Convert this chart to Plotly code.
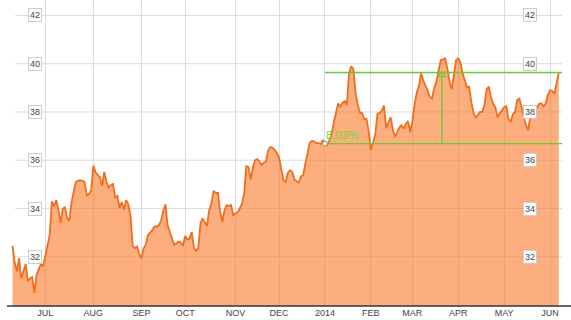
import plotly.graph_objects as go

# Daily closing prices (trading days), mid-June 2013 to early June 2014
pre_jul = [32.45, 31.75, 31.4, 31.95, 31.1, 31.4, 31.7, 31.0, 31.1, 31.15, 30.5, 31.25, 31.45, 31.7, 31.6]
jul = [32.0, 32.4, 32.9, 34.3, 34.1, 34.35, 33.95, 33.4, 34.0, 34.05, 33.6, 33.5, 34.25, 34.7, 35.1, 35.15,
       35.17, 35.15, 35.1, 34.55, 34.6, 34.75]
aug = [35.78, 35.5, 35.4, 35.29, 34.94, 35.52, 35.1, 34.87, 34.97, 35.01, 34.45, 34.52, 34.03, 34.27, 33.96,
       34.35, 34.17, 33.68, 32.45, 32.35, 32.42, 32.11]
sep = [31.93, 32.35, 32.5, 32.9, 33.0, 33.1, 33.26, 33.25, 33.3, 33.5, 33.9, 34.17, 33.3, 33.0, 32.7, 32.49,
       32.55, 32.63, 32.6, 32.45]
oct_ = [32.86, 32.72, 32.75, 33.03, 32.4, 32.25, 32.35, 33.38, 33.59, 33.45, 33.27, 33.93, 34.2, 34.73, 34.65,
        34.65, 33.9, 33.45, 33.93, 34.14, 34.10, 34.14, 33.72]
nov = [33.79, 33.84, 34.0, 34.2, 34.6, 35.75, 35.72, 35.2, 35.7, 36.0, 36.05, 35.95, 35.8, 35.9, 35.95, 36.41,
       36.55, 36.52, 36.42, 36.3]
dec = [36.1, 35.6, 35.17, 35.1, 35.48, 35.59, 35.52, 35.2, 35.14, 35.07, 35.33, 35.38, 35.85, 36.3, 36.72,
       36.8, 36.78, 36.7, 36.72, 36.66, 36.84]
jan = [36.69, 36.62, 36.8, 37.1, 37.55, 37.9, 38.35, 38.22, 38.38, 38.45, 38.3, 39.6, 39.89, 39.79, 38.8,
       38.3, 37.98, 37.95, 37.7, 37.72, 37.2]
feb = [36.42, 36.8, 37.05, 37.92, 37.96, 38.05, 38.26, 37.33, 37.58, 37.78, 37.3, 36.97, 37.15, 37.35, 37.45,
       37.3, 37.5, 37.62, 37.17]
mar = [37.6, 38.3, 38.8, 39.1, 39.6, 39.3, 39.1, 38.9, 38.62, 38.56, 39.0, 39.25, 39.72, 40.15, 40.18, 40.22,
       39.82, 39.25, 38.95, 39.6, 40.15]
apr = [40.23, 40.05, 39.6, 39.32, 39.02, 39.05, 38.4, 37.98, 37.75, 37.88, 38.0, 38.0, 38.3, 38.95, 39.05,
       38.6, 38.33, 38.19, 37.78, 37.95, 38.08]
may = [38.2, 38.24, 37.7, 37.6, 37.9, 38.0, 38.5, 38.55, 38.1, 37.8, 37.44, 37.25, 37.85, 37.8, 38.04, 38.18,
       38.33, 38.36, 38.24, 38.35, 38.7]
jun = [38.9, 38.88, 38.75, 39.2, 39.635]

prices = pre_jul + jul + aug + sep + oct_ + nov + dec + jan + feb + mar + apr + may + jun
days = list(range(len(prices)))

# Month-start positions (trading-day index) and labels
month_ticks = [15, 37, 59, 79, 102, 122, 143, 164, 183, 204, 225, 246]
month_labels = ["JUL", "AUG", "SEP", "OCT", "NOV", "DEC", "2014", "FEB", "MAR", "APR", "MAY", "JUN"]

y_ticks = [32, 34, 36, 38, 40, 42]

# Measurement tool: from start of 2014 to last close
meas_start = 143
meas_end = len(prices) - 1

W, H = 571, 320
line_c = "#f06e1e"
fill_c = "rgba(250,120,40,0.6)"
green = "#66cc33"

fig = go.Figure()
fig.add_trace(go.Scatter(
    x=days, y=prices, mode="lines",
    line=dict(color=line_c, width=1.8),
    fill="tozeroy", fillcolor=fill_c, hoverinfo="skip", showlegend=False))

p0 = prices[meas_start]
p1 = prices[meas_end]
mid = (meas_start + meas_end) / 2
x_end = meas_end + 1.5
pct = (p1 / p0 - 1) * 100

# measurement lines
fig.add_trace(go.Scatter(x=[meas_start, x_end], y=[p1, p1], mode="lines",
                         line=dict(color=green, width=1.3), showlegend=False, hoverinfo="skip"))
fig.add_trace(go.Scatter(x=[meas_start, x_end], y=[p0, p0], mode="lines",
                         line=dict(color=green, width=1.3), showlegend=False, hoverinfo="skip"))
fig.add_trace(go.Scatter(x=[mid, mid], y=[p0, p1], mode="lines",
                         line=dict(color=green, width=1.3), showlegend=False, hoverinfo="skip"))
fig.add_trace(go.Scatter(x=[mid], y=[p1 - 0.1], mode="markers",
                         marker=dict(symbol="triangle-up-open", size=7, color=green, line=dict(width=1)),
                         showlegend=False, hoverinfo="skip"))
fig.add_trace(go.Scatter(x=[meas_start], y=[p0], mode="markers",
                         marker=dict(symbol="square", size=4, color="white", line=dict(color="#999", width=1)),
                         showlegend=False, hoverinfo="skip"))

shapes = []
for v in y_ticks:
    shapes.append(dict(type="line", xref="paper", yref="y", x0=15 / W, x1=562 / W, y0=v, y1=v,
                       line=dict(color="#dcdcdc", width=1), layer="below"))
shapes.append(dict(type="line", xref="paper", yref="paper", x0=7 / W, x1=1, y0=0, y1=0,
                   line=dict(color="#333", width=1.5)))

annotations = []
for v in y_ticks:
    for xp in (28 / W, 537 / W):
        annotations.append(dict(x=xp, y=v, xref="paper", yref="y", text=str(v), showarrow=False,
                                font=dict(family="Liberation Sans, Arial", size=9, color="#444"),
                                bgcolor="white", bordercolor="#cccccc", borderwidth=1, borderpad=1))
annotations.append(dict(x=meas_start, y=p0, xref="x", yref="y", text=f"{pct:.2f}%", showarrow=False,
                        xanchor="left", yanchor="bottom", yshift=1, xshift=-1,
                        font=dict(family="Liberation Sans, Arial", size=11.5, color="#66dd33")))

fig.update_layout(
    width=W, height=H, margin=dict(l=0, r=0, t=0, b=14),
    plot_bgcolor="white", paper_bgcolor="white",
    xaxis=dict(range=[-5.73, 255.6], tickmode="array", tickvals=month_ticks, ticktext=month_labels,
               showgrid=True, gridcolor="#dcdcdc", gridwidth=1, zeroline=False, showline=False,
               ticks="", ticklabelstandoff=0,
               tickfont=dict(family="Liberation Sans, Arial", size=9, color="#444")),
    yaxis=dict(range=[29.96, 42.64], showgrid=False, zeroline=False, showticklabels=False),
    shapes=shapes, annotations=annotations,
)

fig.write_html("out.html")
